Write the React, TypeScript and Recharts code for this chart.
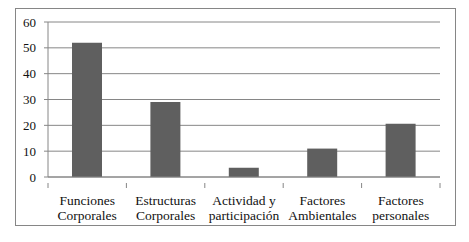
import React from "react";
import { BarChart, Bar, XAxis, YAxis, CartesianGrid } from "recharts";

const categories = [
  "Funciones Corporales",
  "Estructuras Corporales",
  "Actividad y participación",
  "Factores Ambientales",
  "Factores personales",
];
const labelLine1 = ["Funciones", "Estructuras", "Actividad y", "Factores", "Factores"];
const labelLine2 = ["Corporales", "Corporales", "participación", "Ambientales", "personales"];
const values = [52, 29, 3.6, 11, 20.6];
const yTicks = [0, 10, 20, 30, 40, 50, 60];

const data = categories.map((c, i) => ({ name: c, value: values[i], idx: i }));

const GRID = "#868686";
const BAR = "#5f5f5f";
const FONT = '"Liberation Serif", "DejaVu Serif", "Times New Roman", Times, serif';

const XTick = (props: any) => {
  const { x, y, payload } = props;
  const i = categories.indexOf(payload.value);
  const band = 392 / categories.length;
  const left = x - band / 2;
  const right = x + band / 2;
  const ts = { fontFamily: FONT, fontSize: 13.5 };
  return (
    <g>
      <line x1={left} y1={y - 2} x2={left} y2={y + 3} stroke={GRID} />
      {i === categories.length - 1 && (
        <line x1={right} y1={y - 2} x2={right} y2={y + 3} stroke={GRID} />
      )}
      <text x={x} y={y + 20} textAnchor="middle" style={ts} fill="#111">
        {labelLine1[i]}
      </text>
      <text x={x} y={y + 35} textAnchor="middle" style={ts} fill="#111">
        {labelLine2[i]}
      </text>
    </g>
  );
};

const YTick = (props: any) => {
  const { x, y, payload } = props;
  return (
    <text x={x} y={y + 4.5} textAnchor="end" style={{ fontFamily: FONT, fontSize: 13 }} fill="#111">
      {payload.value}
    </text>
  );
};

export default function App() {
  return (
    <div style={{ position: "absolute", left: 0, top: 0, width: 469, height: 242, background: "#fff", fontFamily: FONT }}>
      <div
        style={{
          position: "absolute",
          left: 15,
          top: 8,
          width: 441,
          height: 218,
          border: `1px solid ${GRID}`,
          boxSizing: "border-box",
        }}
      />
      <div style={{ position: "absolute", left: 0, top: 0 }}>
        <BarChart
          width={469}
          height={242}
          data={data}
          margin={{ top: 22, right: 29, left: 8, bottom: 15 }}
          barCategoryGap={24}
        >
          <CartesianGrid vertical={false} stroke={GRID} strokeWidth={1} />
          <XAxis
            dataKey="name"
            interval={0}
            height={50}
            axisLine={{ stroke: GRID }}
            tickLine={false}
            tick={<XTick />}
          />
          <YAxis
            width={40}
            domain={[0, 60]}
            ticks={yTicks}
            axisLine={{ stroke: GRID }}
            tickLine={{ stroke: GRID }}
            tickSize={4}
            tickMargin={8}
            tick={<YTick />}
          />
          <Bar dataKey="value" fill={BAR} isAnimationActive={false} />
        </BarChart>
      </div>
    </div>
  );
}
